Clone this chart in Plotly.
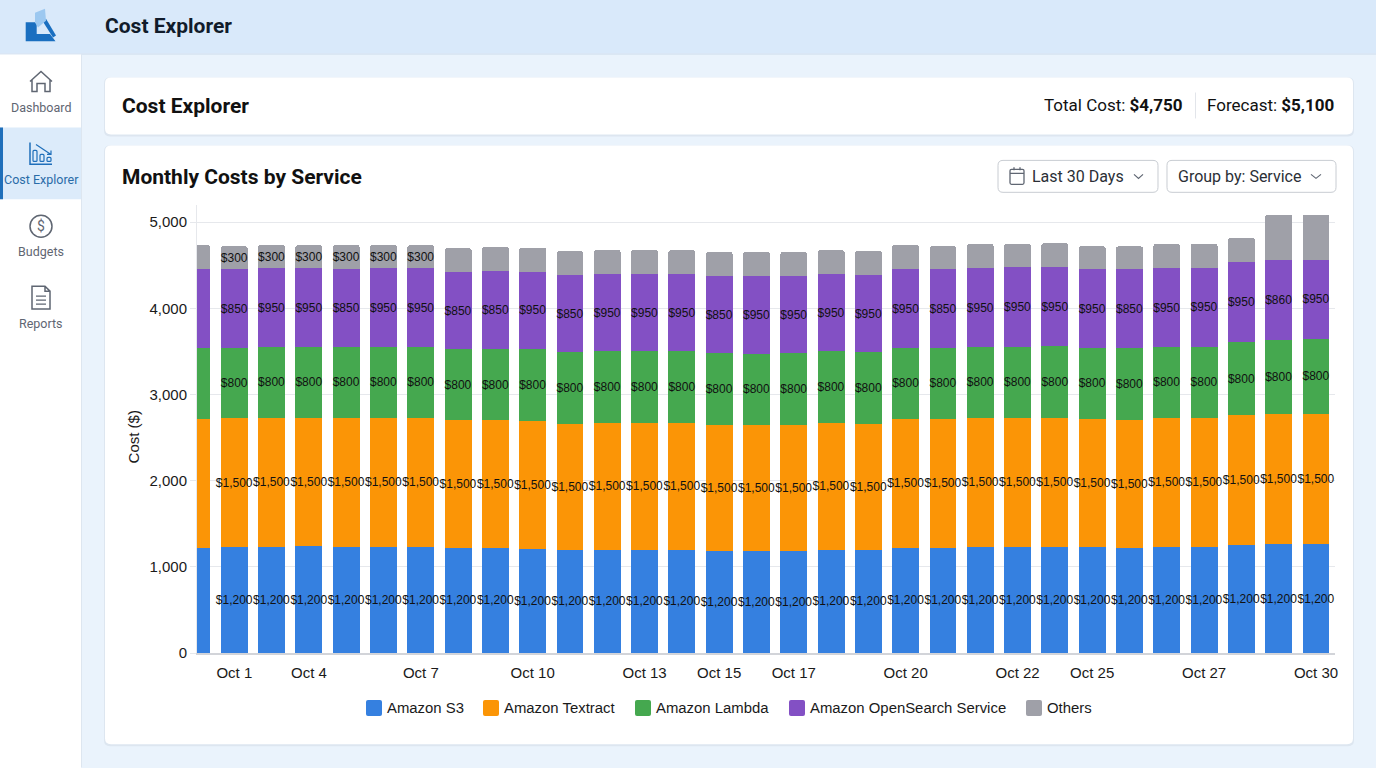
import plotly.graph_objects as go

# Daily costs ($)
dias = list(range(31))
amazon_s3 = [1222, 1234, 1234, 1240, 1234, 1234, 1234, 1222, 1222, 1211, 1199, 1199, 1199, 1199, 1188, 1188,
             1188, 1199, 1199, 1222, 1222, 1234, 1234, 1234, 1234, 1222, 1234, 1234, 1257, 1263, 1263]
amazon_textract = [1495, 1489, 1495, 1489, 1495, 1495, 1495, 1483, 1483, 1483, 1460, 1472, 1472, 1472, 1460, 1460,
                   1460, 1472, 1460, 1495, 1495, 1495, 1495, 1495, 1483, 1483, 1495, 1495, 1506, 1512, 1512]
amazon_lambda = [823, 817, 823, 823, 823, 823, 823, 823, 823, 834, 834, 834, 834, 834, 834, 823,
                 834, 834, 834, 823, 823, 823, 823, 834, 823, 834, 823, 823, 846, 863, 869]
amazon_opensearch = [915, 915, 915, 915, 907, 915, 915, 892, 907, 896, 892, 892, 892, 892, 892, 904,
                     892, 892, 892, 915, 915, 915, 927, 915, 915, 915, 915, 921, 927, 921, 921]
otros = [278, 266, 266, 266, 275, 266, 266, 278, 275, 278, 278, 278, 278, 278, 278, 278,
         278, 278, 278, 278, 266, 278, 266, 278, 266, 266, 278, 276, 278, 527, 521]

# Labels printed on the bars (the first bar and most of the grey ones have none)
txt_s3 = [""] + ["$1,200"] * 30
txt_textract = [""] + ["$1,500"] * 30
txt_lambda = [""] + ["$800"] * 30
txt_opensearch = ["", "$850", "$950", "$950", "$850", "$950", "$950", "$850", "$850", "$950", "$850", "$950", "$950",
                  "$950", "$850", "$950", "$950", "$950", "$950", "$950", "$850", "$950", "$950", "$950", "$950",
                  "$850", "$950", "$950", "$950", "$860", "$950"]
txt_otros = [""] + ["$300"] * 6 + [""] * 24

tick_pos = [1, 3, 6, 9, 12, 14, 16, 19, 22, 24, 27, 30]
tick_txt = ["Oct 1", "Oct 4", "Oct 7", "Oct 10", "Oct 13", "Oct 15", "Oct 17", "Oct 20", "Oct 22", "Oct 25",
            "Oct 27", "Oct 30"]
y_ticks = [0, 1000, 2000, 3000, 4000, 5000]
y_txt = ["0", "1,000", "2,000", "3,000", "4,000", "5,000"]

series = ["Amazon S3", "Amazon Textract", "Amazon Lambda", "Amazon OpenSearch Service", "Others"]
colores = ["#3580E0", "#FB9506", "#45A84F", "#8350C4", "#9FA0A8"]
valores = [amazon_s3, amazon_textract, amazon_lambda, amazon_opensearch, otros]
textos = [txt_s3, txt_textract, txt_lambda, txt_opensearch, txt_otros]

# Plot area in page pixels, everything around it is placed in pixels too
W, H = 1376, 768
P_L, P_R, P_T, P_B = 197, 1335, 204.7, 653.5
Y_MAX = 5200


def px_x(x):
    return (x - P_L) / (P_R - P_L)


def px_y(y):
    return (P_B - y) / (P_B - P_T)


def ruta(d):
    # "M 10 20 L 30 40 Z" in page pixels -> paper coordinates
    out, par = [], []
    for tok in d.split():
        if tok.isalpha():
            out.append(tok)
        else:
            par.append(float(tok))
            if len(par) == 2:
                out.append(f"{px_x(par[0]):.5f},{px_y(par[1]):.5f}")
                par = []
    return " ".join(out)


def caja(x0, y0, x1, y1, r):
    return (f"M {x0 + r} {y0} L {x1 - r} {y0} Q {x1} {y0} {x1} {y0 + r} L {x1} {y1 - r} Q {x1} {y1} {x1 - r} {y1} "
            f"L {x0 + r} {y1} Q {x0} {y1} {x0} {y1 - r} L {x0} {y0 + r} Q {x0} {y0} {x0 + r} {y0} Z")


def circulo(cx, cy, r):
    k = r * 0.5523
    return (f"M {cx - r} {cy} C {cx - r} {cy - k} {cx - k} {cy - r} {cx} {cy - r} "
            f"C {cx + k} {cy - r} {cx + r} {cy - k} {cx + r} {cy} "
            f"C {cx + r} {cy + k} {cx + k} {cy + r} {cx} {cy + r} "
            f"C {cx - k} {cy + r} {cx - r} {cy + k} {cx - r} {cy} Z")


formas = []


def forma(d, fill=None, line=None, ancho=1.5):
    formas.append(dict(type="path", xref="paper", yref="paper", layer="below", path=ruta(d),
                       fillcolor=fill if fill else "rgba(0,0,0,0)",
                       line=dict(color=line if line else "rgba(0,0,0,0)", width=ancho if line else 0)))


notas = []


def texto(x, y, t, size, color="#111111", anchor="left", fam="Roboto", giro=0):
    # left-anchored notes land 1px to the right of the asked position
    if anchor == "left":
        x -= 1
    notas.append(dict(xref="paper", yref="paper", x=px_x(x), y=px_y(y), text=t, showarrow=False, xanchor=anchor,
                      yanchor="middle", borderpad=0, textangle=giro, font=dict(family=fam, size=size, color=color)))


# Header and sidebar
forma(caja(-2, -2, W + 2, 53, 0), fill="#D9E9FA")
forma(f"M 0 53.5 L {W} 53.5", line="#CFDDEC", ancho=1)
forma(caja(0, 54, 81, H + 2, 0), fill="#FFFFFF")
forma(f"M 81.5 54 L 81.5 {H}", line="#DDE6F0", ancho=1)
forma(caja(0, 127, 81, 199, 0), fill="#DCEBFA")
forma(caja(0, 127, 3, 199, 0), fill="#1F6FBA")

# Logo
forma("M 25.7 21.7 L 36.7 21.7 L 36.7 33.3 L 50 33.3 L 55.5 40.7 L 25.7 40.7 Z", fill="#1A6FC0")
forma("M 42.7 20.7 L 46 18 L 56 35 L 53 37 Z", fill="#1A6FC0")
forma("M 35 12 L 45 8 L 46 20 L 38 27 L 35 22 Z", fill="#9CC8F0")

# Sidebar icons
gris = "#5F6672"
forma("M 30 81 L 41 71 L 52 81 M 32 79 L 32 91 L 37 91 L 37 83 L 45 83 L 45 91 L 50 91 L 50 79", line=gris)
forma("M 30 142 L 30 164 L 52 164", line="#1F6FBA")
forma("M 36 144 L 51 154 M 51 150 L 51 154 L 47 154", line="#1F6FBA", ancho=1.2)
forma(caja(33, 150, 37, 161, 1), line="#1F6FBA", ancho=1.2)
forma(caja(40, 154, 44, 161, 1), line="#1F6FBA", ancho=1.2)
forma(caja(47, 157, 51, 161, 1), line="#1F6FBA", ancho=1.2)
forma(circulo(41, 226, 11), line=gris)
texto(41, 226, "$", 14, gris, "center")
forma("M 32 286 L 45 286 L 50 291 L 50 309 L 32 309 Z M 45 286 L 45 291 L 50 291", line=gris)
forma("M 36 296 L 46 296 M 36 300 L 46 300 M 36 304 L 46 304", line=gris, ancho=1.2)

texto(41, 107, "Dashboard", 12.5, gris, "center")
texto(41, 179.5, "Cost Explorer", 12.5, "#2A6CA8", "center")
texto(41, 251.5, "Budgets", 12.5, gris, "center")
texto(41, 323.5, "Reports", 12.5, gris, "center")
texto(105, 25.5, "<b>Cost Explorer</b>", 21, "#111C2B")

# Cards
for y0, y1 in [(77, 134), (145, 745)]:
    forma(caja(104, y0, 1354, y1 + 2, 6), fill="#DDE6F0")
    forma(caja(105, y0, 1353, y1, 6), fill="#FFFFFF")

texto(122, 105.5, "<b>Cost Explorer</b>", 21)
texto(1044, 105, "Total Cost: <b>$4,750</b>", 17)
forma("M 1195.5 92 L 1195.5 118", line="#E2E5EA", ancho=1)
texto(1207, 105, "Forecast: <b>$5,100</b>", 17)
texto(122, 176.5, "<b>Monthly Costs by Service</b>", 21)

# Selectors
forma(caja(998, 160, 1158, 192, 5), fill="#FFFFFF", line="#C8CCD2", ancho=1)
forma(caja(1167, 160, 1336, 192, 5), fill="#FFFFFF", line="#C8CCD2", ancho=1)
forma(caja(1010, 169, 1024, 184, 1.5), line=gris, ancho=1.3)
forma("M 1010 173 L 1024 173 M 1014 167 L 1014 170 M 1020 167 L 1020 170", line=gris, ancho=1.3)
texto(1032, 176, "Last 30 Days", 16, "#2B2F36")
texto(1178, 176, "Group by: Service", 16, "#2B2F36")
forma("M 1134 174 L 1138.5 178 L 1143 174", line=gris, ancho=1.2)
forma("M 1311 174 L 1316 178 L 1321 174", line=gris, ancho=1.2)

# Legend drawn by hand, the built-in one can't get this swatch size and gap
leyenda_x = [366, 483, 635, 789, 1026]
for nombre, color, x in zip(series, colores, leyenda_x):
    forma(caja(x, 700.5, x + 16, 716.5, 2), fill=color)
    texto(x + 21, 709, nombre, 14.9, "#1A1A1A", fam="Liberation Sans")

# Axis title as a note: it is centred on 0-5000, not on the whole plot area
texto(133, 437.5, "Cost ($)", 15, "#1A1A1A", "center", "Liberation Sans", -90)

fig = go.Figure()
for nombre, color, y, t in zip(series, colores, valores, textos):
    fig.add_trace(go.Bar(x=dias, y=y, name=nombre, marker_color=color, marker_line_width=0, width=0.72,
                         text=t, textposition="inside", insidetextanchor="middle", textangle=0,
                         constraintext="none", cliponaxis=False,
                         textfont=dict(family="Liberation Sans", size=12, color="#111111")))

fig.update_layout(barmode="stack", barcornerradius=2, showlegend=False, width=W, height=H,
                  margin=dict(l=P_L, r=W - P_R, t=P_T, b=H - P_B),
                  paper_bgcolor="#EAF3FC", plot_bgcolor="rgba(0,0,0,0)",
                  font=dict(family="Liberation Sans", size=15, color="#1A1A1A"),
                  shapes=formas, annotations=notas)
fig.update_xaxes(range=[0, 30.51], tickmode="array", tickvals=tick_pos, ticktext=tick_txt, showgrid=False,
                 showline=True, linecolor="#D2D4D9", linewidth=1.5, ticks="", ticklabelstandoff=5)
fig.update_yaxes(range=[0, Y_MAX], tickmode="array", tickvals=y_ticks, ticktext=y_txt, gridcolor="#E6E8EC",
                 gridwidth=1, zeroline=False, showline=True, linecolor="#E6E8EC", ticks="outside", ticklen=6,
                 tickcolor="#E6E8EC", ticklabelstandoff=0)

# Page without the browser's default 8px body margin
fig.write_html("out.html", config=dict(displayModeBar=False),
               post_script="document.body.style.margin = '0';")
